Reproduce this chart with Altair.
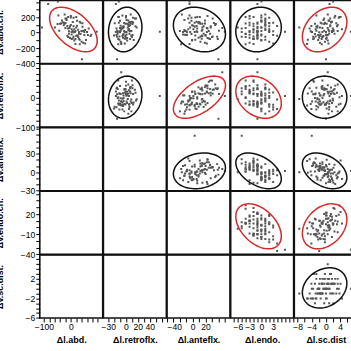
import altair as alt
import numpy as np
import pandas as pd

# ---- data (columns: x variables, rows: y variables) ----
d_abd = [20, -26, 40, 3, 63, -10, 10, -46, 27, 50,
         -3, 33, -20, 17, -36, 43, 7, 23, -13, 76,
         0, 36, -30, 13, 53, -7, 30, -16, 10, -59,
         46, 3, 27, -23, 20, 66, -10, 40, -40, 23,
         0, 56, -20, 17, 7, 33, -33, 43, -3, 10,
         30, -13, 60, 3, 20, -49, 36, -7, 50, 7,
         23, -23, 40, -10, 13, 73, -16, 27, 0, 46,
         -26, 17, 33, -3, 53, -20, 10, -43, 30, 3,
         -84, -48, 41, -107, 96, 15, -5]
d_retro = [-4, 7, -9, 1, 11, -13, -1, -6, 5, -16,
           2, -11, 15, -3, 8, -19, 0, -10, 9, -5,
           4, -12, 12, -8, -2, 6, -14, 1, -4, 18,
           -9, 5, -15, 8, -1, -6, 10, -11, 2, -20,
           0, 13, -3, -8, 7, -13, 4, -5, 16, -10,
           -2, 5, -17, 1, -12, 11, -4, 6, -14, 8,
           -9, -1, 9, -16, 2, -6, 17, -11, 0, -8,
           5, -13, 10, -5, 4, -10, 12, -15, -2, 7,
           -17, -12, -15, 3, 57, 0, -8]
d_ante = [28, -1, 12, -15, 20, 7, 38, -5, 15, -9,
          23, 4, 31, -20, 19, 9, 25, -2, 14, -12,
          35, 3, 11, -7, 22, 6, 27, -13, 17, -4,
          41, 1, 12, -17, 20, 7, 30, -10, 15, 4,
          23, -1, 33, -5, 9, -18, 19, 3, 28, -9,
          14, 6, 22, -15, 11, 36, -2, 17, -4, 25,
          1, 12, -12, 23, -1, 15, -7, 31, 4, 19,
          -5, 27, 6, 9, -13, 22, -2, 14, 7, 39,
          -5, -5, 40, 15, 50, 3, 46]
d_endo = [0, -3, 2, -1, -1, -4, 1, 0, -2, 3,
          -1, 1, -3, 0, -4, 2, -2, 0, 4, -3,
          1, -3, -1, -2, 3, -1, -4, 1, -2, 0,
          -1, 2, -5, 1, -1, 1, -4, 3, -2, 0,
          -3, 0, 2, -2, 1, -4, 0, -1, 2, -2,
          -1, 4, -3, 0, -2, 1, -4, -1, 2, -3,
          1, -1, 2, -5, 0, -1, 1, -2, 0, -3,
          3, -2, 0, -3, 1, -4, 2, -1, -1, -2,
          -1, 0, -1, -6, 6, -5, -1]
d_sc = [-1.7, 1.2, -0.3, -3.9, 0.5, 3.8, -1.0, -2.7, 2.1, -2.2,
        0.2, -5.1, -0.5, 1.7, -1.2, 2.9, -3.4, 0.9, -1.9, 0.0,
        3.3, -1.5, 1.4, -2.9, 0.7, -4.3, 2.4, -0.7, 1.2, -2.4,
        -0.5, 4.5, -3.6, 0.5, -1.7, 1.9, -1.0, 0.9, -3.1, 0.2,
        2.6, -2.2, -0.3, -5.3, 1.4, -1.2, 0.7, -2.7, 3.1, -1.9,
        0.0, -4.1, 1.7, -1.5, 4.1, -0.5, -3.1, 0.9, -1.0, 2.1,
        -2.4, 0.2, 3.3, -4.6, 0.5, -0.7, 1.2, -2.9, 2.4, -1.7,
        -0.3, -3.6, 1.7, -1.9, 0.7, -1.0, 3.6, -2.7, 0.0, -1.2,
        1.0, 2.0, 0.0, -7.5, 7.0, -4.0, 0.5]
r1 = [66, 95, -118, 9, -30, 205, -54, 224, 39, -31,
      -70, -93, 184, 21, 119, 122, -76, 155, -41, -27,
      99, 130, 132, 45, -141, 17, -15, 165, 85, 66,
      25, 46, -54, 235, -41, 54, -55, 20, 115, -36,
      218, -95, 127, -148, 140, -152, 159, 78, 83, 7,
      -79, 86, 8, -25, 203, 112, -17, -15, 10, 21,
      90, 115, 21, 53, -103, -43, 184, -49, 196, -131,
      129, -81, 142, -67, 36, 60, 193, 24, 10, -82,
      373, 404, -347, 67, 13, 10, 60]
r2 = [7, 20, -24, -14, 41, 1, 28, -41, 24, -33,
      -19, 13, 26, -47, 35, -31, 53, -21, -7, -24,
      44, -25, 12, -14, 17, -22, 29, 7, -12, -6,
      12, 5, 11, -14, -24, -4, 57, -41, 11, -37,
      40, -17, 27, -27, 34, -20, 13, -29, 16, -23,
      29, -39, 20, 7, -21, 31, -2, -32, -2, 14,
      -3, 28, -47, 31, 19, -16, -10, 13, 12, -14,
      -25, 57, -19, 14, -55, 39, -24, 33, -22, 31,
      5, -10, -72, -5, 5, 20, 85]
r3 = [7, -13, 2, 10, -3, 1, 13, -7, -17, 4,
      20, -1, 8, -10, 5, -5, 16, -12, 3, 11,
      -8, 9, -2, 22, -16, 1, 12, -6, 4, -9,
      7, -11, 14, 0, 10, -14, 8, 1, 15, -3,
      -19, 9, 3, 18, -7, 5, -1, 12, -10, 2,
      11, -5, 4, -13, 19, -6, 1, 13, -9, 7,
      -12, 9, -2, 21, -8, 3, -16, 8, 0, 14,
      -3, 11, -11, 5, -6, 16, -1, 10, -18, 4,
      3, -2, -4, 0, 2, 59, 5]
r4 = [3, 10, -18, 6, 8, 33, -10, -3, 29, -18,
      -5, -9, -9, 12, 7, 17, -10, 3, -35, 18,
      9, 1, 20, -12, 0, -10, 28, -17, 17, -14,
      20, 6, -1, 13, -16, 6, 6, 3, -10, 18,
      10, -4, -22, -1, 11, 6, 14, -10, 5, -9,
      22, -24, 16, -17, 23, -4, 13, -4, 8, 6,
      -6, 22, -7, 8, -10, 10, -2, 12, -6, 10,
      -13, 6, -14, 10, 2, 6, 19, -10, 13, -12,
      0, 4, 5, -2, -33, 2, 3]
r5 = [2, -1, 3, -2, 0, -1, 1, 2, -3, 0,
      1, -2, 2, -1, 1, -1, 3, -3, 0, 0,
      1, -2, 1, -1, 2, -2, 1, 0, 3, -1,
      1, -2, 0, 2, -1, 1, -1, 2, -3, 0,
      2, -1, 0, -2, 3, -1, 1, -2, 0, 1,
      -2, 1, 2, -1, 1, -3, 1, 0, 2, -1,
      0, -2, 2, -1, 1, 0, 3, -2, 1, -1,
      2, -2, 1, 0, 1, -1, 0, 3, -1, 1,
      0, 1, 0, -1, 0, 0, 5]

col_titles = ["Δl.abd.", "Δl.retroflx.", "Δl.anteflx.", "Δl.endo.", "Δl.sc.dist"]
row_titles = ["Δv.abd.ch.", "Δv.retroflx.", "Δv.anteflx.", "Δv.endo.ch.", "Δv.sc.dist."]
col_domains = [[-115, 118], [-38, 68], [-40, 58], [-7.8, 8.2], [-8.9, 8.8]]
row_domains = [[-400, 420], [-100, 113], [-30, 72], [-40, 54], [-6, 6.9]]
col_ticks = [list(range(-100, 101, 20)), list(range(-30, 61, 10)), list(range(-40, 51, 10)),
             list(range(-7, 9, 1)), list(range(-8, 9, 2))]
col_labels = [[-100, 0], [-30, 0, 20, 40], [-40, 0, 20], [-6, -3, 0, 3], [-8, -4, 0, 4]]
row_ticks = [list(range(-400, 401, 100)), list(range(-100, 101, 20)), list(range(-30, 71, 10)),
             list(range(-40, 51, 10)), list(range(-6, 7, 1))]
row_labels = [[200, 0, -200, -400], [0, -100], [30, 0, -30], [20, -10, -40], [2, -2, -6]]
red_cells = [(0, 0), (0, 4), (1, 2), (1, 3), (3, 3), (3, 4)]

cols = [d_abd, d_retro, d_ante, d_endo, d_sc]
rows = [r1, r2, r3, r4, r5]
cf = ["c0", "c1", "c2", "c3", "c4"]
rf = ["r0", "r1", "r2", "r3", "r4"]
df = pd.DataFrame({**{cf[j]: cols[j] for j in range(5)}, **{rf[i]: rows[i] for i in range(5)}})


def ellipse(xs, ys, k=2.48, n=72):
    x = np.asarray(xs, float)
    y = np.asarray(ys, float)
    cov = np.cov(x, y)
    vals, vecs = np.linalg.eigh(cov)
    t = np.linspace(0, 2 * np.pi, n + 1)
    circ = np.vstack([np.cos(t), np.sin(t)])
    p = vecs @ (np.sqrt(vals)[:, None] * circ) * k
    return pd.DataFrame({"ex": p[0] + x.mean(), "ey": p[1] + y.mean(), "o": np.arange(n + 1)})


def lab_expr(vals):
    return "indexof(" + str(vals) + ", datum.value) >= 0 ? datum.label : ''"


FONT = "Liberation Sans"
W, H = 63.3, 63.4
panels = []
for i in range(5):
    for j in range(5):
        xs = alt.Scale(domain=col_domains[j], nice=False, zero=False)
        ys = alt.Scale(domain=row_domains[i], nice=False, zero=False)
        if i == 4:
            xax = alt.Axis(values=col_ticks[j], labelExpr=lab_expr(col_labels[j]), title=col_titles[j])
        else:
            xax = None
        if j == 0:
            yax = alt.Axis(values=row_ticks[i], labelExpr=lab_expr(row_labels[i]), title=row_titles[i],
                           titleX=-35)
        else:
            yax = None
        xenc = alt.X(cf[j], type="quantitative", scale=xs, axis=xax)
        yenc = alt.Y(rf[i], type="quantitative", scale=ys, axis=yax)
        if j >= i:
            pts = alt.Chart(df).mark_square(size=4, color="#555555", opacity=1, clip=True).encode(x=xenc, y=yenc)
            edf = ellipse(cols[j], rows[i])
            colr = "#d42a2a" if (i, j) in red_cells else "#111111"
            ell = alt.Chart(edf).mark_line(color=colr, strokeWidth=1.5, clip=True).encode(
                x=alt.X("ex:Q", scale=xs, axis=xax),
                y=alt.Y("ey:Q", scale=ys, axis=yax),
                order="o:Q")
            panel = alt.layer(pts, ell)
        else:
            panel = alt.Chart(df).mark_square(size=4, opacity=0).encode(x=xenc, y=yenc)
        panels.append(panel.properties(width=W, height=H))

chart = alt.concat(*panels, columns=5, spacing=0, bounds="flush").properties(
    padding={"left": -5, "top": -4.6, "right": -8, "bottom": 1}
).configure_view(stroke="#111111", strokeWidth=1.6).configure_axis(
    grid=False, domain=False,
    labelFont=FONT, labelFontSize=8.6, labelColor="black", labelPadding=1,
    labelOverlap=False,
    tickColor="black", tickSize=4, tickWidth=1,
    titleFont=FONT, titleFontSize=9, titleFontWeight="bold", titleColor="black",
    titlePadding=4,
)

chart.save("out.html", embed_options={"renderer": "svg", "actions": False})
